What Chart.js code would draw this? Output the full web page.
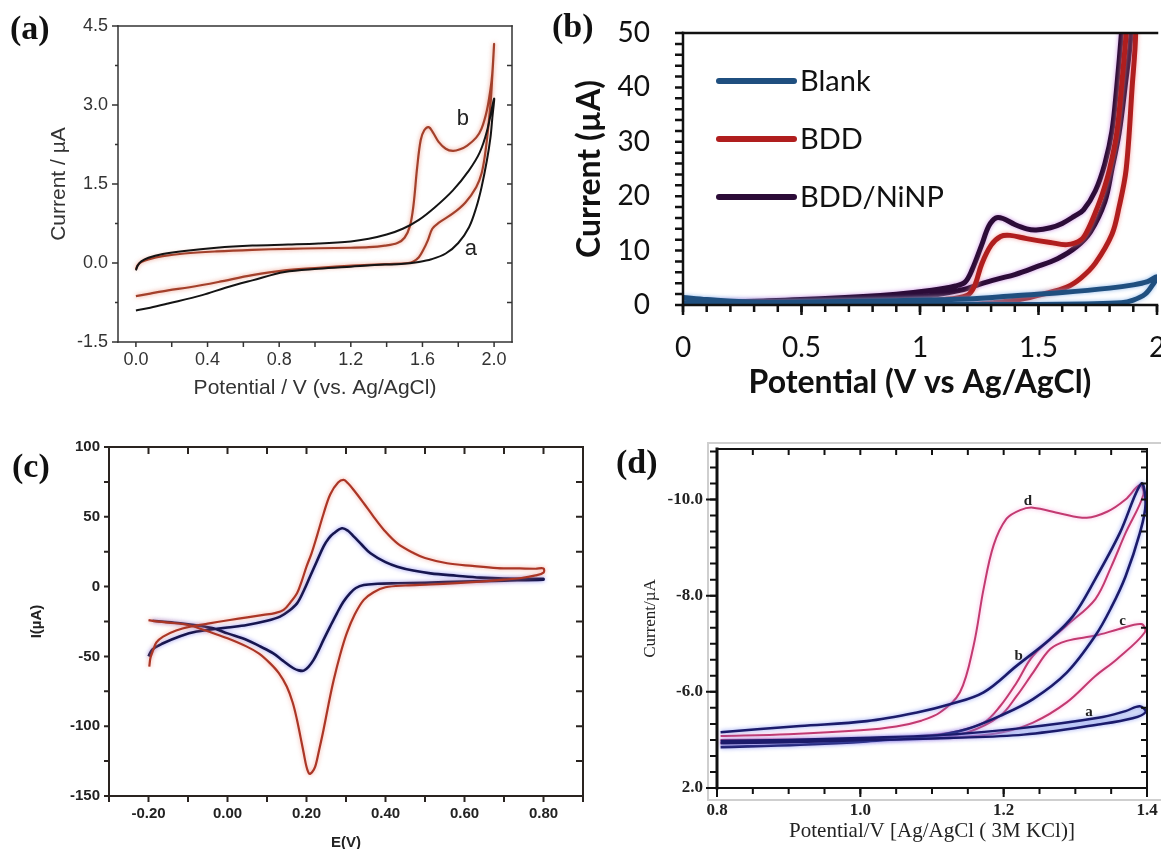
<!DOCTYPE html>
<html>
<head>
<meta charset="utf-8">
<title>CV panels</title>
<script src="https://cdn.jsdelivr.net/npm/chart.js@4.4.1/dist/chart.umd.min.js"></script>
<style>
  html, body { margin: 0; padding: 0; background: #fff; overflow: hidden; }
  #page { position: relative; width: 1161px; height: 849px; overflow: hidden; }
  canvas { position: absolute; }
  .tag { position: absolute; font: bold 34px "Liberation Serif", "Times New Roman", serif; color: #111; line-height: 1; }
</style>
</head>
<body>
<div id="page">
  <canvas id="cv-a" width="560" height="420" style="left:0;top:0"></canvas>
  <canvas id="cv-b" width="601" height="420" style="left:560px;top:0"></canvas>
  <canvas id="cv-c" width="600" height="440" style="left:0;top:425px"></canvas>
  <canvas id="cv-d" width="561" height="440" style="left:600px;top:425px"></canvas>
  <div class="tag" style="left:10px;top:11px">(a)</div>
  <div class="tag" style="left:552px;top:9px">(b)</div>
  <div class="tag" style="left:12px;top:449px">(c)</div>
  <div class="tag" style="left:616px;top:445px">(d)</div>
</div>
<script>
/* ---------- (a) potential (V) / current (uA) ---------- */
const aBlackE = [0, 0.01, 0.03, 0.07, 0.15, 0.27, 0.45, 0.65, 0.85, 1.02, 1.2, 1.3, 1.4, 1.49, 1.58, 1.67, 1.77, 1.86, 1.92, 1.96, 2.0,
                 1.99, 1.98, 1.96, 1.93, 1.9, 1.86, 1.8, 1.73, 1.65, 1.58, 1.48, 1.39, 1.2, 1.02, 0.83, 0.65, 0.5, 0.37, 0.18, 0.08, 0];
const aBlackI = [-0.14, -0.05, 0.03, 0.1, 0.17, 0.23, 0.29, 0.33, 0.35, 0.37, 0.41, 0.46, 0.54, 0.65, 0.82, 1.06, 1.38, 1.76, 2.1, 2.5, 3.12,
                 2.75, 2.39, 1.95, 1.44, 1.05, 0.68, 0.38, 0.18, 0.07, 0.02, -0.02, -0.03, -0.07, -0.11, -0.17, -0.33, -0.47, -0.61, -0.77, -0.85, -0.9];
const aRedE = [0, 0.01, 0.03, 0.07, 0.15, 0.27, 0.45, 0.65, 0.85, 1.02, 1.2, 1.3, 1.39, 1.46, 1.5, 1.53, 1.55, 1.57, 1.59, 1.61,
               1.635, 1.66, 1.69, 1.73, 1.77, 1.81, 1.85, 1.9, 1.93, 1.96, 1.98, 1.99, 2.0,
               1.99, 1.98, 1.965, 1.95, 1.93, 1.9, 1.84, 1.77, 1.69, 1.655, 1.63, 1.605, 1.58, 1.55, 1.52, 1.4, 1.21, 1.02, 0.83, 0.65,
               0.46, 0.3, 0.18, 0.08, 0];
const aRedI = [-0.12, -0.04, 0.02, 0.07, 0.13, 0.18, 0.22, 0.25, 0.27, 0.28, 0.29, 0.3, 0.33, 0.38, 0.48, 0.7, 1.1, 1.8, 2.33, 2.52,
               2.58, 2.47, 2.3, 2.17, 2.13, 2.16, 2.23, 2.38, 2.55, 2.9, 3.3, 3.6, 4.16,
               3.55, 3.02, 2.5, 2.07, 1.7, 1.44, 1.15, 0.94, 0.76, 0.65, 0.43, 0.25, 0.11, 0.03, 0.0, -0.02, -0.05, -0.09, -0.14, -0.23,
               -0.36, -0.46, -0.52, -0.58, -0.63];
const aXTicks = [0, 0.4, 0.8, 1.2, 1.6, 2.0];
const aXLabels = ['0.0', '0.4', '0.8', '1.2', '1.6', '2.0'];
const aYTicks = [-1.5, 0, 1.5, 3.0, 4.5];
const aYLabels = ['-1.5', '0.0', '1.5', '3.0', '4.5'];

/* ---------- (b) ---------- */
const bBlankE = [0, 0.1, 0.3, 0.6, 0.9, 1.2, 1.4, 1.6, 1.8, 1.9, 1.96, 2.0, 1.98, 1.95, 1.9, 1.85, 1.7, 1.5, 1.2, 0.8, 0.4, 0];
const bBlankI = [1.4, 1.0, 0.5, 0.6, 0.8, 1.1, 1.7, 2.3, 3.1, 3.7, 4.3, 5.2, 3.6, 2.0, 0.9, 0.4, 0.2, 0.1, 0.1, 0.1, 0.1, 0.4];
const bBddE = [0, 0.3, 0.6, 0.9, 1.1, 1.2, 1.23, 1.26, 1.3, 1.34, 1.38, 1.45, 1.55, 1.62, 1.68, 1.71, 1.74, 1.77, 1.8, 1.83,
               1.85, 1.87, 1.885, 1.905, 1.91, 1.895, 1.87, 1.84, 1.81, 1.74, 1.68, 1.62, 1.52, 1.42, 1.3, 1.2, 0.8, 0.4, 0];
const bBddI = [0, 0.1, 0.3, 0.6, 1.0, 1.8, 3.5, 7.5, 11, 12.6, 12.8, 12.2, 11.5, 11.1, 12.0, 14.0, 17.0, 20.5, 25, 31.6,
               40, 50, 60, 60, 50, 40, 25, 18, 13, 7.7, 5.0, 3.3, 2.0, 1.0, 0.4, 0.1, 0, 0, 0];
const bNiE = [0, 0.3, 0.6, 0.9, 1.05, 1.15, 1.19, 1.22, 1.26, 1.29, 1.32, 1.35, 1.4, 1.45, 1.49, 1.55, 1.6, 1.65, 1.69, 1.74,
              1.78, 1.81, 1.83, 1.85, 1.865, 1.885, 1.89, 1.865, 1.84, 1.81, 1.78, 1.72, 1.66, 1.58, 1.49, 1.4, 1.33, 1.25, 1.18, 1.0,
              0.7, 0.4, 0];
const bNiI = [0.3, 0.7, 1.2, 2.0, 2.7, 3.5, 4.2, 6.5, 11, 14.5, 16, 15.9, 14.8, 14, 13.8, 14.2, 15, 16.3, 17.5, 21,
              26, 32, 40, 50, 60, 60, 50, 40, 31.6, 25, 19, 13.5, 10.7, 8.5, 7, 5.6, 4.8, 3.8, 2.8, 1.5,
              0.8, 0.4, 0.1];
const bSeries = ['Blank', 'BDD', 'BDD/NiNP'];
const bXTicks = [0, 0.5, 1, 1.5, 2];
const bXLabels = ['0', '0.5', '1', '1.5', '2'];
const bYTicks = [0, 10, 20, 30, 40, 50];
const bYLabels = ['0', '10', '20', '30', '40', '50'];

/* ---------- (c) ---------- */
const cRedE = [-0.2, -0.19, -0.15, -0.1, -0.036, 0, 0.049, 0.08, 0.108, 0.13, 0.15, 0.165, 0.176, 0.185, 0.193, 0.2, 0.207, 0.214,
               0.222, 0.232, 0.243, 0.256, 0.269, 0.285, 0.302, 0.322, 0.345, 0.37, 0.4, 0.45, 0.514, 0.58, 0.64, 0.7, 0.74, 0.78, 0.8,
               0.8, 0.78, 0.74, 0.683, 0.62, 0.556, 0.5, 0.472, 0.43, 0.396, 0.37, 0.345, 0.32, 0.305, 0.294, 0.28, 0.26, 0.243,
               0.226, 0.213, 0.2, 0.188, 0.176, 0.16, 0.142, 0.12, 0.091, 0.05, 0.006, -0.05, -0.095, -0.13, -0.163, -0.18, -0.188,
               -0.195, -0.198];
const cRedI = [-24, -24.5, -25.8, -27.5, -33.4, -37, -43, -48, -55, -62, -71.6, -83, -95.5, -108, -119.4, -129, -134, -133,
               -129, -117, -102.7, -84, -66.8, -49, -33.4, -20, -9.5, -4, -0.5, 0.8, 1.5, 2.5, 3.6, 5, 6, 8, 10,
               13, 12.8, 13, 13.3, 14.8, 16.7, 20.5, 23.9, 31, 40.6, 50, 59.7, 69, 74, 76.4, 74.5, 66, 52,
               35.8, 24, 14.3, 4, -4.8, -11, -16.7, -19, -20.3, -22, -23.9, -26.5, -28.7, -31.5, -35.8, -40, -45.4,
               -51, -57.3];
const cBlueE = [-0.2, -0.19, -0.163, -0.12, -0.078, 0, 0.049, 0.1, 0.133, 0.155, 0.176, 0.193, 0.209, 0.226, 0.243, 0.256, 0.269,
                0.29, 0.305, 0.32, 0.34, 0.362, 0.4, 0.43, 0.47, 0.514, 0.58, 0.64, 0.7, 0.8,
                0.8, 0.7, 0.6, 0.5, 0.43, 0.38, 0.345, 0.325, 0.31, 0.293, 0.277, 0.26, 0.243, 0.23, 0.218, 0.205, 0.193, 0.18,
                0.167, 0.14, 0.116, 0.08, 0.049, 0, -0.036, -0.08, -0.12, -0.16, -0.19];
const cBlueI = [-50, -45, -40.6, -35.5, -32.2, -29.3, -27.5, -24.5, -21.5, -17.5, -12, -3, 7.2, 18, 28.7, 34.5, 38.2,
                41.8, 40, 35.8, 30, 23.9, 17.5, 14.3, 11.5, 9.5, 7.8, 6.4, 5.7, 5.5,
                5.0, 4.3, 3.6, 2.8, 2.4, 2.0, 1.2, -1, -4.8, -11, -19.1, -28.5, -38.2, -46, -52.5, -57.5, -60.2, -60,
                -58.5, -53, -47.8, -42.5, -38.2, -33.5, -29.9, -27.8, -26.3, -25.2, -24.5];
const cXTicks = [-0.2, 0, 0.2, 0.4, 0.6, 0.8];
const cXLabels = ['-0.20', '0.00', '0.20', '0.40', '0.60', '0.80'];
const cYTicks = [-150, -100, -50, 0, 50, 100];
const cYLabels = ['-150', '-100', '-50', '0', '50', '100'];

/* ---------- (d) current plotted as magnitude, axis labelled as in the figure ---------- */
const dAE = [0.805, 0.9, 1.0, 1.125, 1.228, 1.332, 1.37, 1.39, 1.398, 1.38, 1.332, 1.228, 1.125, 1.0, 0.9, 0.805];
const dAI = [4.98, 5.0, 5.04, 5.11, 5.25, 5.46, 5.6, 5.7, 5.58, 5.45, 5.32, 5.11, 5.04, 4.99, 4.95, 4.93];
const dBE = [0.805, 0.916, 1.009, 1.079, 1.125, 1.172, 1.218, 1.265, 1.297, 1.328, 1.362, 1.392,
             1.398, 1.39, 1.37, 1.35, 1.328, 1.288, 1.241, 1.195, 1.148, 1.1, 1.009, 0.916, 0.805];
const dBI = [5.16, 5.29, 5.39, 5.57, 5.74, 5.99, 6.54, 7.1, 7.58, 8.35, 9.3, 10.33,
             9.9, 9.3, 8.4, 7.75, 7.17, 6.4, 5.85, 5.5, 5.22, 5.08, 4.97, 4.9, 4.85];
const dCE = [0.805, 0.9, 1.0, 1.1, 1.148, 1.195, 1.218, 1.241, 1.265, 1.288, 1.328, 1.36, 1.392,
             1.397, 1.358, 1.328, 1.288, 1.241, 1.195, 1.125, 1.0, 0.9, 0.805];
const dCI = [5.0, 5.01, 5.02, 5.05, 5.15, 5.5, 5.91, 6.4, 6.89, 7.06, 7.17, 7.3, 7.41,
             7.24, 6.68, 6.33, 5.78, 5.36, 5.15, 5.05, 4.99, 4.96, 4.94];
const dDE = [0.805, 0.9, 1.0, 1.05, 1.085, 1.111, 1.139, 1.158, 1.172, 1.186, 1.204, 1.223, 1.241, 1.279, 1.316, 1.345, 1.37, 1.39,
             1.395, 1.37, 1.35, 1.328, 1.288, 1.241, 1.218, 1.195, 1.172, 1.125, 1.055, 0.916, 0.805];
const dDI = [5.08, 5.12, 5.2, 5.28, 5.4, 5.57, 5.99, 6.96, 8.14, 9.05, 9.6, 9.78, 9.83, 9.71, 9.62, 9.75, 10.0, 10.3,
             10.1, 9.3, 8.6, 7.93, 7.38, 6.75, 6.19, 5.7, 5.36, 5.15, 5.05, 4.97, 4.94];
const dXTicks = [0.8, 1.0, 1.2, 1.4];
const dXLabels = ['0.8', '1.0', '1.2', '1.4'];
const dYTicks = [4, 6, 8, 10];
const dYLabels = ['2.0', '-6.0', '-8.0', '-10.0'];

/* ---------- helpers ---------- */
function steps(a, b, d) {
  const n = Math.round((b - a) / d);
  return Array.from({ length: n + 1 }, (_, i) => a + i * d);
}

function curve(label, xs, ys, color, width, extra) {
  return Object.assign({
    label,
    data: xs.map((x, i) => ({ x, y: ys[i] })),
    borderColor: color,
    backgroundColor: color,
    borderWidth: width,
    showLine: true,
    pointRadius: 0,
    tension: 0.35,
    fill: false
  }, extra || {});
}

function axis(o) {
  const vertical = o.pos === 'left';
  return {
    type: 'linear',
    position: o.pos,
    min: o.min,
    max: o.max,
    grid: { display: false, drawTicks: false },
    border: { display: false },
    afterBuildTicks: s => { s.ticks = o.ticks.map(v => ({ value: v })); },
    afterFit: s => {
      if (vertical) { s.width = o.size; s.paddingTop = 0; s.paddingBottom = 0; }
      else { s.height = o.size; s.paddingLeft = 0; s.paddingRight = 0; }
    },
    ticks: {
      autoSkip: false, maxRotation: 0, padding: o.pad, color: o.color, font: o.font,
      callback: (v, i) => o.labels[i]
    },
    title: {
      display: true, text: o.title, color: o.color, font: o.titleFont,
      padding: vertical ? { top: o.titlePad, bottom: 0 } : { top: 0, bottom: o.titlePad }
    }
  };
}

// frame, tick marks, in-plot notes and legend, drawn through the chart's own scales
function framePlugin(cfg) {
  return {
    id: 'frame',
    beforeDatasetDraw(chart, args) {
      const ds = chart.data.datasets[args.index];
      if (!ds.glow) return;
      chart.ctx.save();
      chart.ctx.shadowColor = ds.glow;
      chart.ctx.shadowBlur = 4;
    },
    afterDatasetDraw(chart, args) {
      if (chart.data.datasets[args.index].glow) chart.ctx.restore();
    },
    afterDatasetsDraw(chart) {
      const { ctx, chartArea: a, scales } = chart;
      const edge = { top: a.top, bottom: a.bottom, left: a.left, right: a.right };
      ctx.save();
      if (cfg.outer) {
        const o = cfg.outer;
        ctx.strokeStyle = o.color;
        ctx.lineWidth = 2;
        ctx.strokeRect(a.left - o.l, a.top - o.t, a.right - a.left + o.l + o.r, a.bottom - a.top + o.t + o.b);
      }
      ctx.strokeStyle = cfg.color;
      ctx.lineCap = 'square';
      Object.entries(cfg.sides).forEach(([side, w]) => {
        ctx.lineWidth = w;
        ctx.beginPath();
        if (side === 'top' || side === 'bottom') {
          ctx.moveTo(a.left, edge[side]); ctx.lineTo(a.right, edge[side]);
        } else {
          ctx.moveTo(edge[side], a.top); ctx.lineTo(edge[side], a.bottom);
        }
        ctx.stroke();
      });
      ctx.lineCap = 'butt';
      ctx.lineWidth = cfg.tickWidth;
      cfg.marks.forEach(m => {
        const horiz = m.side === 'top' || m.side === 'bottom';
        const scale = horiz ? scales.x : scales.y;
        const outward = (m.side === 'bottom' || m.side === 'right') ? 1 : -1;
        const d = (m.out ? 1 : -1) * outward * m.len;
        ctx.beginPath();
        m.values.forEach(v => {
          const p = scale.getPixelForValue(v);
          if (horiz) { ctx.moveTo(p, edge[m.side]); ctx.lineTo(p, edge[m.side] + d); }
          else { ctx.moveTo(edge[m.side], p); ctx.lineTo(edge[m.side] + d, p); }
        });
        ctx.stroke();
      });
      (cfg.notes || []).forEach(n => {
        ctx.font = n.font;
        ctx.fillStyle = n.color;
        ctx.textAlign = 'center';
        ctx.textBaseline = 'middle';
        ctx.fillText(n.text, scales.x.getPixelForValue(n.x), scales.y.getPixelForValue(n.y));
      });
      if (cfg.legend) {
        const lg = cfg.legend;
        chart.data.datasets.forEach((ds, i) => {
          const y = a.top + lg.y + i * lg.dy;
          const x = a.left + lg.x;
          ctx.strokeStyle = ds.borderColor;
          ctx.lineWidth = 6;
          ctx.lineCap = 'round';
          ctx.beginPath(); ctx.moveTo(x, y); ctx.lineTo(x + lg.len, y); ctx.stroke();
          ctx.font = lg.font;
          ctx.fillStyle = '#111';
          ctx.textAlign = 'left';
          ctx.textBaseline = 'middle';
          ctx.fillText(ds.label, x + lg.len + 6, y + 1);
        });
      }
      ctx.restore();
    }
  };
}

function makeChart(id, datasets, padding, x, y, frame) {
  return new Chart(document.getElementById(id), {
    type: 'scatter',
    data: { datasets },
    options: {
      responsive: false,
      animation: false,
      events: [],
      layout: { padding },
      plugins: { legend: { display: false }, tooltip: { enabled: false } },
      scales: { x: axis(Object.assign({ pos: 'bottom' }, x)), y: axis(Object.assign({ pos: 'left' }, y)) }
    },
    plugins: [framePlugin(frame)]
  });
}

/* ---------- (a) ---------- */
const arial = (size, weight) => ({ family: 'Liberation Sans', size, weight: weight || 'normal', lineHeight: 1.2 });
makeChart('cv-a', [
  curve('a', aBlackE, aBlackI, '#141414', 2),
  curve('b', aRedE, aRedI, '#a3402b', 2.2, { glow: 'rgba(225,110,80,0.7)' })
], { left: 0, top: 26, right: 48, bottom: 0 },
{ min: -0.1, max: 2.1, ticks: aXTicks, labels: aXLabels, size: 78, pad: 7, color: '#333', font: arial(18),
  title: 'Potential / V (vs. Ag/AgCl)', titleFont: arial(21), titlePad: 19 },
{ min: -1.5, max: 4.5, ticks: aYTicks, labels: aYLabels, size: 118, pad: 10, color: '#333', font: arial(18),
  title: 'Current / \u00B5A', titleFont: arial(21), titlePad: 47 },
{ color: '#333', tickWidth: 1.5, sides: { top: 1.5, right: 1.5, bottom: 1.5, left: 1.5 },
  marks: [
    { side: 'left', out: true, len: 6, values: aYTicks },
    { side: 'left', out: true, len: 3, values: [-0.75, 0.75, 2.25, 3.75] },
    { side: 'bottom', out: true, len: 5, values: steps(0, 2, 0.2) },
    { side: 'right', out: false, len: 5, values: steps(-0.75, 3.75, 0.75) }
  ],
  notes: [
    { text: 'b', x: 1.826, y: 2.73, font: '22px "Liberation Sans"', color: '#222' },
    { text: 'a', x: 1.87, y: 0.27, font: '22px "Liberation Sans"', color: '#222' }
  ] });

/* ---------- (b) ---------- */
const lato = (size, weight) => ({ family: 'Lato', size, weight: weight || 'normal', lineHeight: 1.2 });
makeChart('cv-b', [
  curve(bSeries[0], bBlankE, bBlankI, '#1f4f7f', 5, { glow: 'rgba(120,170,230,0.8)' }),
  curve(bSeries[1], bBddE, bBddI, '#b01e1e', 5, { glow: 'rgba(240,140,140,0.8)' }),
  curve(bSeries[2], bNiE, bNiI, '#2c0c38', 5, { glow: 'rgba(190,120,220,0.8)' })
], { left: 0, top: 33, right: 4, bottom: 0 },
{ min: 0, max: 2, ticks: bXTicks, labels: bXLabels, size: 115, pad: 26, color: '#111', font: lato(28),
  title: 'Potential (V vs Ag/AgCl)', titleFont: lato(32, 'bold'), titlePad: 18 },
{ min: 0, max: 50, ticks: bYTicks, labels: bYLabels, size: 123, pad: 33, color: '#111', font: lato(28),
  title: 'Current (\u00B5A)', titleFont: lato(32, 'bold'), titlePad: 10 },
{ color: '#111', tickWidth: 2.5, sides: { top: 2.5, bottom: 2.5, left: 2.5 },
  marks: [
    { side: 'left', out: true, len: 8, values: steps(0, 50, 2) },
    { side: 'bottom', out: true, len: 7, values: steps(0, 2, 0.1) },
    { side: 'bottom', out: true, len: 10, values: bXTicks }
  ],
  legend: { x: 36, y: 48, dy: 58, len: 75, font: '29px Lato' } });

/* ---------- (c) ---------- */
makeChart('cv-c', [
  curve('red', cRedE, cRedI, '#ab3626', 2.2, { glow: 'rgba(235,130,110,0.7)' }),
  curve('blue', cBlueE, cBlueI, '#16164f', 2.6, { glow: 'rgba(120,120,240,0.8)' })
], { left: 0, top: 22, right: 17, bottom: 0 },
{ min: -0.3, max: 0.9, ticks: cXTicks, labels: cXLabels, size: 69, pad: 9, color: '#222', font: arial(15, 'bold'),
  title: 'E(V)', titleFont: arial(15, 'bold'), titlePad: 13 },
{ min: -150, max: 100, ticks: cYTicks, labels: cYLabels, size: 109, pad: 9, color: '#222', font: arial(15, 'bold'),
  title: 'I(\u00B5A)', titleFont: arial(15, 'bold'), titlePad: 28 },
{ color: '#2a2420', tickWidth: 2, sides: { top: 2, right: 2, bottom: 2, left: 2 },
  marks: [
    { side: 'left', out: true, len: 5, values: steps(-150, 100, 25) },
    { side: 'right', out: false, len: 7, values: steps(-150, 100, 25) },
    { side: 'bottom', out: true, len: 6, values: steps(-0.3, 0.9, 0.1) },
    { side: 'top', out: false, len: 7, values: steps(-0.3, 0.9, 0.1) }
  ] });

/* ---------- (d) ---------- */
const times = (size, weight) => ({ family: 'Liberation Serif', size, weight: weight || 'normal', lineHeight: 1.2 });
const navy = '#1b1b6b';
const pink = '#c23a70';
makeChart('cv-d', [
  curve('a', dAE, dAI, navy, 2.4, { fill: 'shape', backgroundColor: 'rgba(150,170,235,0.35)', glow: 'rgba(110,130,240,0.8)' }),
  curve('b', dBE, dBI, navy, 2.6, { glow: 'rgba(110,130,240,0.8)' }),
  curve('c', dCE, dCI, pink, 2, { glow: 'rgba(240,120,200,0.6)' }),
  curve('d', dDE, dDI, pink, 2, { glow: 'rgba(240,120,200,0.6)' })
], { left: 0, top: 24, right: 14, bottom: 0 },
{ min: 0.8, max: 1.4, ticks: dXTicks, labels: dXLabels, size: 77, pad: 12, color: '#222', font: times(17, 'bold'),
  title: 'Potential/V [Ag/AgCl ( 3M KCl)]', titleFont: times(21), titlePad: 21 },
{ min: 4, max: 11.05, ticks: dYTicks, labels: dYLabels, size: 117, pad: 14, color: '#222', font: times(17, 'bold'),
  title: 'Current/\u00B5A', titleFont: times(17), titlePad: 40 },
{ color: '#111', tickWidth: 2, sides: { top: 2, right: 2, bottom: 2, left: 3 },
  outer: { color: '#cfcfcf', l: 9, t: 6, r: 20, b: 12 },
  marks: [
    { side: 'left', out: true, len: 7, values: steps(4, 11, 1 / 3) },
    { side: 'left', out: true, len: 11, values: dYTicks },
    { side: 'right', out: false, len: 6, values: steps(4, 11, 1 / 3) },
    { side: 'top', out: false, len: 6, values: steps(0.8, 1.4, 0.05) },
    { side: 'bottom', out: true, len: 6, values: steps(0.8, 1.4, 0.05) },
    { side: 'bottom', out: true, len: 9, values: dXTicks }
  ],
  notes: [
    { text: 'd', x: 1.234, y: 9.96, font: 'bold 15px "Liberation Serif"', color: '#222' },
    { text: 'c', x: 1.366, y: 7.48, font: 'bold 15px "Liberation Serif"', color: '#222' },
    { text: 'b', x: 1.221, y: 6.75, font: 'bold 15px "Liberation Serif"', color: '#222' },
    { text: 'a', x: 1.319, y: 5.57, font: 'bold 15px "Liberation Serif"', color: '#222' }
  ] });
</script>
</body>
</html>
